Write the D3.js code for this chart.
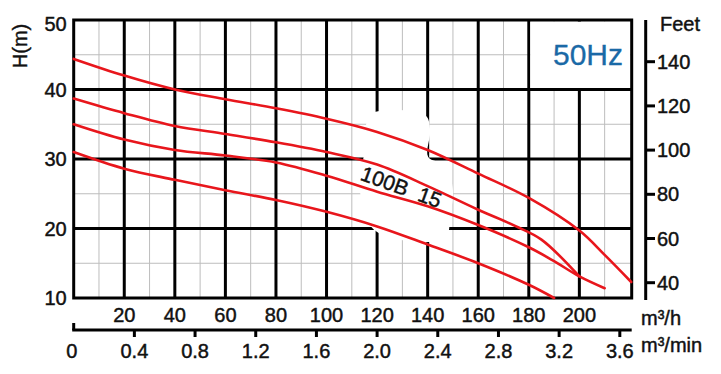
<!DOCTYPE html>
<html>
<head>
<meta charset="utf-8">
<script src="https://cdn.jsdelivr.net/npm/d3@7"></script>
<style>
    body { margin: 0; background: #fff; }
    svg text { font-family: "Liberation Sans", Arial, sans-serif; fill: #111; stroke: #111; stroke-width: 0.45px; }
</style>
</head>
<body>
<svg id="chart" width="721" height="374"></svg>
<script>
// Tick values for the axes.
const flowTicks = [20, 40, 60, 80, 100, 120, 140, 160, 180, 200];
const flowMinor = [10, 30, 50, 70, 90, 110, 130, 150, 170, 190, 210];
const minTicks = [0, 0.4, 0.8, 1.2, 1.6, 2.0, 2.4, 2.8, 3.2, 3.6];
const headTicks = [10, 20, 30, 40, 50];
const headMinor = [15, 25, 35, 45];
const feetTicks = [40, 60, 80, 100, 120, 140];

// Pump curves, [flow m3/h, head m].
const curve1 = [[0, 44.4], [20, 42.0], [40, 40.0], [60, 38.6], [80, 37.3], [100, 35.8], [120, 33.9],
    [140, 31.3], [160, 27.9], [180, 24.4], [200, 19.7], [210, 16.2], [220.5, 12.3]];
const curve2 = [[0, 38.7], [20, 36.6], [40, 34.75], [60, 33.6], [80, 32.4], [100, 31.0], [120, 29.2],
    [140, 26.1], [160, 22.7], [175, 20.3], [185, 18.4], [200, 13.1]];
const curve3 = [[0, 35.0], [20, 32.8], [40, 31.3], [60, 30.5], [80, 29.5], [100, 27.6], [120, 25.3],
    [140, 23.2], [160, 20.5], [180, 17.3], [190, 15.3], [200, 13.1], [210, 11.4]];
const curve4 = [[0, 31.0], [20, 28.6], [40, 27.0], [60, 25.5], [80, 24.1], [100, 22.4], [120, 20.3],
    [140, 17.7], [160, 15.0], [180, 11.9], [190, 10.0]];

// White patch behind the model label, [flow, head].
const labelPatch = [[118.0, 36.6], [139.0, 36.3], [141.0, 34.2], [140.2, 30.3], [146.9, 29.1],
    [150.0, 25.5], [148.9, 21.9], [146.9, 18.6], [125.9, 18.6], [118.0, 20.1], [114.0, 23.4],
    [113.3, 27.7], [115.2, 31.3], [115.6, 34.9]];

const modelLabel = "100B\u00a0\u00a015";
const freqLabel = "50Hz";

var svg = d3.select("#chart");

var x = d3.scaleLinear().domain([0, 220.7]).range([73.7, 631.7]);
var y = d3.scaleLinear().domain([10, 50]).range([298, 20]);
var feet = d3.scaleLinear().domain([40, 140]).range([282.7, 61.7]);

const red = "#e8161c";

// Minor grid.
var grid = svg.append("g");
grid.selectAll(".vminor").data(flowMinor).enter().append("line")
    .attr("x1", d => x(d)).attr("x2", d => x(d))
    .attr("y1", y(50)).attr("y2", y(10))
    .attr("stroke", "#bdbdbd").attr("stroke-width", 1);
grid.selectAll(".hminor").data(headMinor).enter().append("line")
    .attr("x1", x(0)).attr("x2", x(220.7))
    .attr("y1", d => y(d)).attr("y2", d => y(d))
    .attr("stroke", "#bdbdbd").attr("stroke-width", 1);

// Major grid.
grid.selectAll(".vmajor").data(flowTicks).enter().append("line")
    .attr("x1", d => x(d)).attr("x2", d => x(d))
    .attr("y1", y(50)).attr("y2", y(10))
    .attr("stroke", "#000").attr("stroke-width", 3);
grid.selectAll(".hmajor").data([20, 30, 40]).enter().append("line")
    .attr("x1", x(0)).attr("x2", x(220.7))
    .attr("y1", d => y(d)).attr("y2", d => y(d))
    .attr("stroke", "#000").attr("stroke-width", 3);

// Blank box for the frequency label.
svg.append("rect")
    .attr("x", x(180) + 1.5).attr("y", y(50) + 1.5)
    .attr("width", x(220.7) - x(180) - 3).attr("height", y(40) - y(50) - 3)
    .attr("fill", "#fff");

// Blank patch behind the model label.
svg.append("path")
    .attr("d", d3.line().x(d => x(d[0])).y(d => y(d[1])).curve(d3.curveCatmullRomClosed)(labelPatch))
    .attr("fill", "#fff");

// Plot border.
svg.append("rect")
    .attr("x", x(0)).attr("y", y(50))
    .attr("width", x(220.7) - x(0)).attr("height", y(10) - y(50))
    .attr("fill", "none").attr("stroke", "#000").attr("stroke-width", 3);

// Curves.
var line = d3.line().x(d => x(d[0])).y(d => y(d[1])).curve(d3.curveCatmullRom.alpha(0.5));
svg.selectAll(".curve").data([curve1, curve2, curve3, curve4]).enter().append("path")
    .attr("d", line)
    .attr("fill", "none").attr("stroke", red).attr("stroke-width", 2.6)
    .attr("stroke-linecap", "round");

// Left axis labels.
svg.selectAll(".hlab").data(headTicks).enter().append("text")
    .attr("x", x(0) - 7)
    .attr("y", d => y(d) + (d === 50 ? 11 : 7))
    .attr("text-anchor", "end")
    .attr("font-size", 20)
    .text(d => d);

svg.append("text")
    .attr("transform", "translate(27,46) rotate(-90)")
    .attr("text-anchor", "middle")
    .attr("font-size", 20)
    .text("H(m)");

// Flow labels under the plot.
svg.selectAll(".flab").data(flowTicks).enter().append("text")
    .attr("x", d => x(d)).attr("y", 322)
    .attr("text-anchor", "middle")
    .attr("font-size", 20)
    .text(d => d);

// m3/min axis.
var minAxis = svg.append("g");
minAxis.append("line")
    .attr("x1", x(0) - 1.5).attr("x2", x(220.7))
    .attr("y1", 330).attr("y2", 330)
    .attr("stroke", "#000").attr("stroke-width", 3);
minAxis.append("line")
    .attr("x1", x(0)).attr("x2", x(0))
    .attr("y1", 323).attr("y2", 330)
    .attr("stroke", "#000").attr("stroke-width", 3);
minAxis.selectAll(".mtick").data(minTicks.slice(1)).enter().append("line")
    .attr("x1", d => x(d * 60)).attr("x2", d => x(d * 60))
    .attr("y1", 330).attr("y2", 337)
    .attr("stroke", "#000").attr("stroke-width", 3);
minAxis.selectAll(".mlab").data(minTicks).enter().append("text")
    .attr("x", d => x(d * 60) - (d === 0 ? 2 : 0)).attr("y", 358)
    .attr("text-anchor", "middle")
    .attr("font-size", 20)
    .text(d => d === 0 ? "0" : d.toFixed(1));

svg.append("text").attr("x", 641).attr("y", 325).attr("font-size", 20).text("m³/h");
svg.append("text").attr("x", 641).attr("y", 352).attr("font-size", 20).text("m³/min");

// Feet axis on the right.
var feetAxis = svg.append("g");
feetAxis.append("line")
    .attr("x1", 645.7).attr("x2", 645.7)
    .attr("y1", y(50)).attr("y2", 300)
    .attr("stroke", "#000").attr("stroke-width", 3);
feetAxis.selectAll(".ftick").data(feetTicks).enter().append("line")
    .attr("x1", 645.7).attr("x2", 655)
    .attr("y1", d => feet(d)).attr("y2", d => feet(d))
    .attr("stroke", "#000").attr("stroke-width", 3);
feetAxis.selectAll(".flab").data(feetTicks).enter().append("text")
    .attr("x", 657).attr("y", d => feet(d) + 7)
    .attr("font-size", 20)
    .text(d => d);
svg.append("text").attr("x", 660).attr("y", 31).attr("font-size", 20).text("Feet");

// Frequency and model labels.
svg.append("text")
    .attr("x", 623).attr("y", 65)
    .attr("text-anchor", "end")
    .attr("font-size", 30)
    .style("fill", "#1a69a6").style("stroke", "#1a69a6").style("stroke-width", "0.3px")
    .text(freqLabel);

svg.append("text")
    .attr("transform", "translate(" + x(128.6) + "," + (y(26.0) + 7) + ") rotate(20)")
    .attr("text-anchor", "middle")
    .attr("font-size", 21)
    .text(modelLabel);
</script>
</body>
</html>
